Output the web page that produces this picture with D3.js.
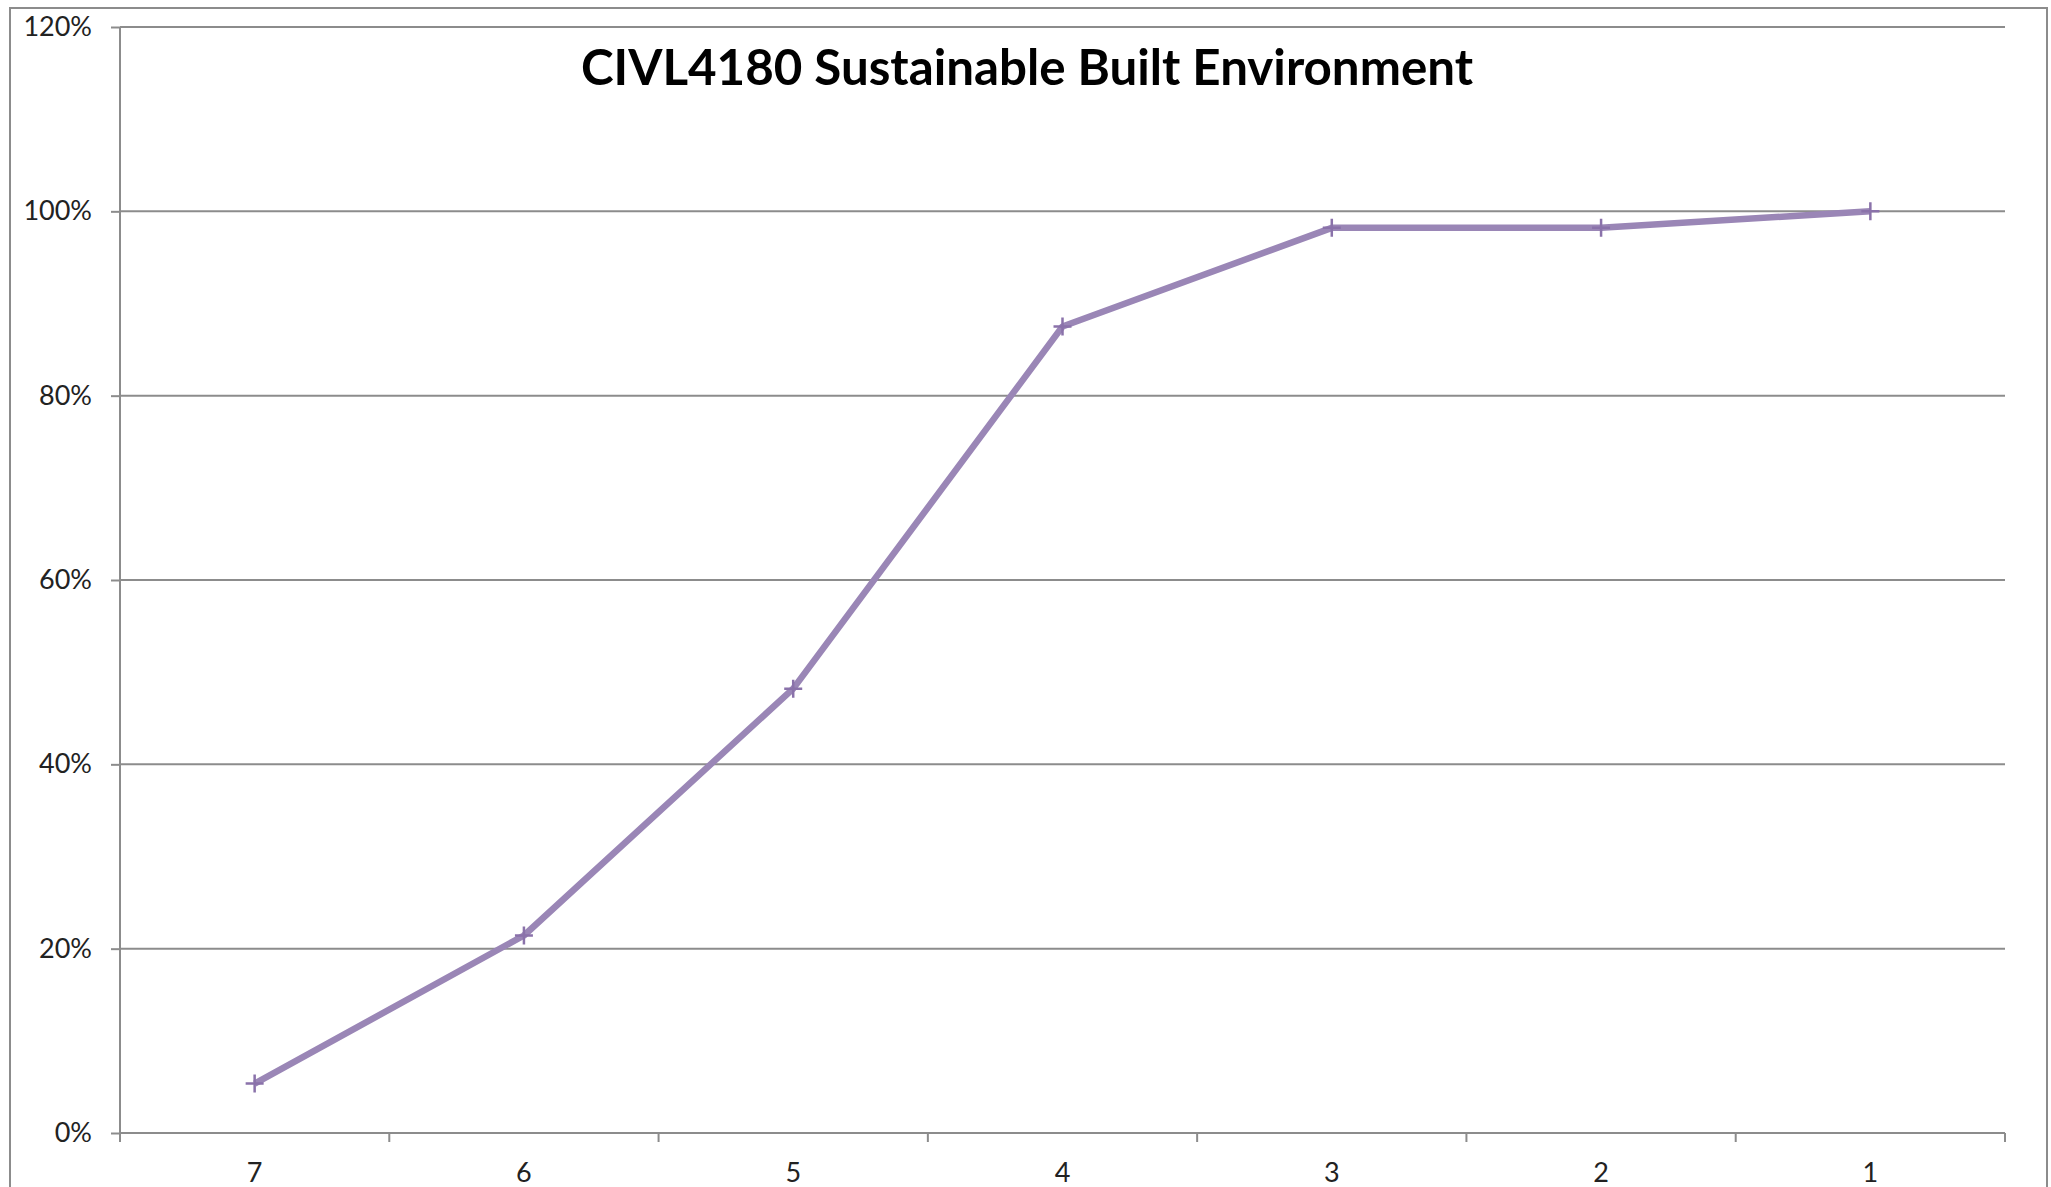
<!DOCTYPE html>
<html>
<head>
<meta charset="utf-8">
<script src="https://cdn.jsdelivr.net/npm/d3@7"></script>
<style>
  body { margin: 0; background: #fff; }
  svg { display: block; }
  text { font-family: Lato, "Open Sans", sans-serif; fill: #222; }
</style>
</head>
<body>
<div id="chart"></div>
<script>
// categories run from 7 down to 1, as on the original axis
const categories = ['7', '6', '5', '4', '3', '2', '1'];
const values = [0.0536, 0.2143, 0.4821, 0.875, 0.9821, 0.9821, 1.0];
const yTicks = [0, 0.2, 0.4, 0.6, 0.8, 1.0, 1.2];
const title = 'CIVL4180 Sustainable Built Environment';

const width = 2051, height = 1187;
const margins = { top: 27, right: 46, bottom: 54, left: 120 };

const svg = d3.select('#chart').append('svg')
    .attr('width', width)
    .attr('height', height);

// outer chart frame
svg.append('rect')
    .attr('x', 10)
    .attr('y', 8)
    .attr('width', 2037)
    .attr('height', 1190)
    .attr('fill', 'none')
    .attr('stroke', '#8c8c8c')
    .attr('stroke-width', 2);

const x = d3.scaleBand()
    .domain(categories)
    .range([margins.left, width - margins.right])
    .paddingInner(0)
    .paddingOuter(0);

const y = d3.scaleLinear()
    .domain([0, 1.2])
    .range([height - margins.bottom, margins.top]);

// horizontal gridlines
svg.append('g')
    .selectAll('line')
    .data(yTicks)
    .join('line')
    .attr('x1', margins.left)
    .attr('x2', width - margins.right)
    .attr('y1', d => y(d))
    .attr('y2', d => y(d))
    .attr('stroke', '#8c8c8c')
    .attr('stroke-width', 2);

// y axis
const yAxis = svg.append('g')
    .attr('transform', `translate(${margins.left},0)`)
    .call(d3.axisLeft(y)
        .tickValues(yTicks)
        .tickSize(9)
        .tickPadding(19)
        .tickFormat(d3.format('.0%')));

// x axis, ticks sit on band edges
const xAxis = svg.append('g')
    .attr('transform', `translate(0,${y(0)})`)
    .call(d3.axisBottom(x).tickSize(0).tickPadding(30));

const edges = categories.map(c => x(c)).concat([x.range()[1]]);
xAxis.selectAll('.edge')
    .data(edges)
    .join('line')
    .attr('class', 'edge')
    .attr('x1', d => d)
    .attr('x2', d => d)
    .attr('y1', 0)
    .attr('y2', 9);

svg.selectAll('.domain, .tick line, .edge')
    .attr('stroke', '#8c8c8c')
    .attr('stroke-width', 2);
svg.selectAll('.tick text')
    .attr('font-size', 27)
    .attr('fill', '#222');
yAxis.selectAll('.domain').attr('d', `M0,${y(0)}V${y(1.2)}`);
xAxis.selectAll('.domain').attr('d', `M${x.range()[0]},0H${x.range()[1]}`);

// series line
const cx = c => x(c) + x.bandwidth() / 2;
const line = d3.line()
    .x((d, i) => cx(categories[i]))
    .y(d => y(d));

svg.append('path')
    .datum(values)
    .attr('fill', 'none')
    .attr('stroke', '#9a86b6')
    .attr('stroke-width', 6.5)
    .attr('stroke-linejoin', 'round')
    .attr('d', line);

// plus markers
const m = 9;
svg.append('g')
    .selectAll('path')
    .data(values)
    .join('path')
    .attr('d', (d, i) => {
        const px = cx(categories[i]), py = y(d);
        return `M${px - m},${py}H${px + m}M${px},${py - m}V${py + m}`;
    })
    .attr('stroke', '#8a72aa')
    .attr('stroke-width', 2.5);

// title
svg.append('text')
    .attr('x', 581)
    .attr('y', 85)
    .attr('font-size', 49)
    .attr('font-weight', 'bold')
    .attr('textLength', 892)
    .attr('lengthAdjust', 'spacingAndGlyphs')
    .style('fill', '#000')
    .text(title);
</script>
</body>
</html>
